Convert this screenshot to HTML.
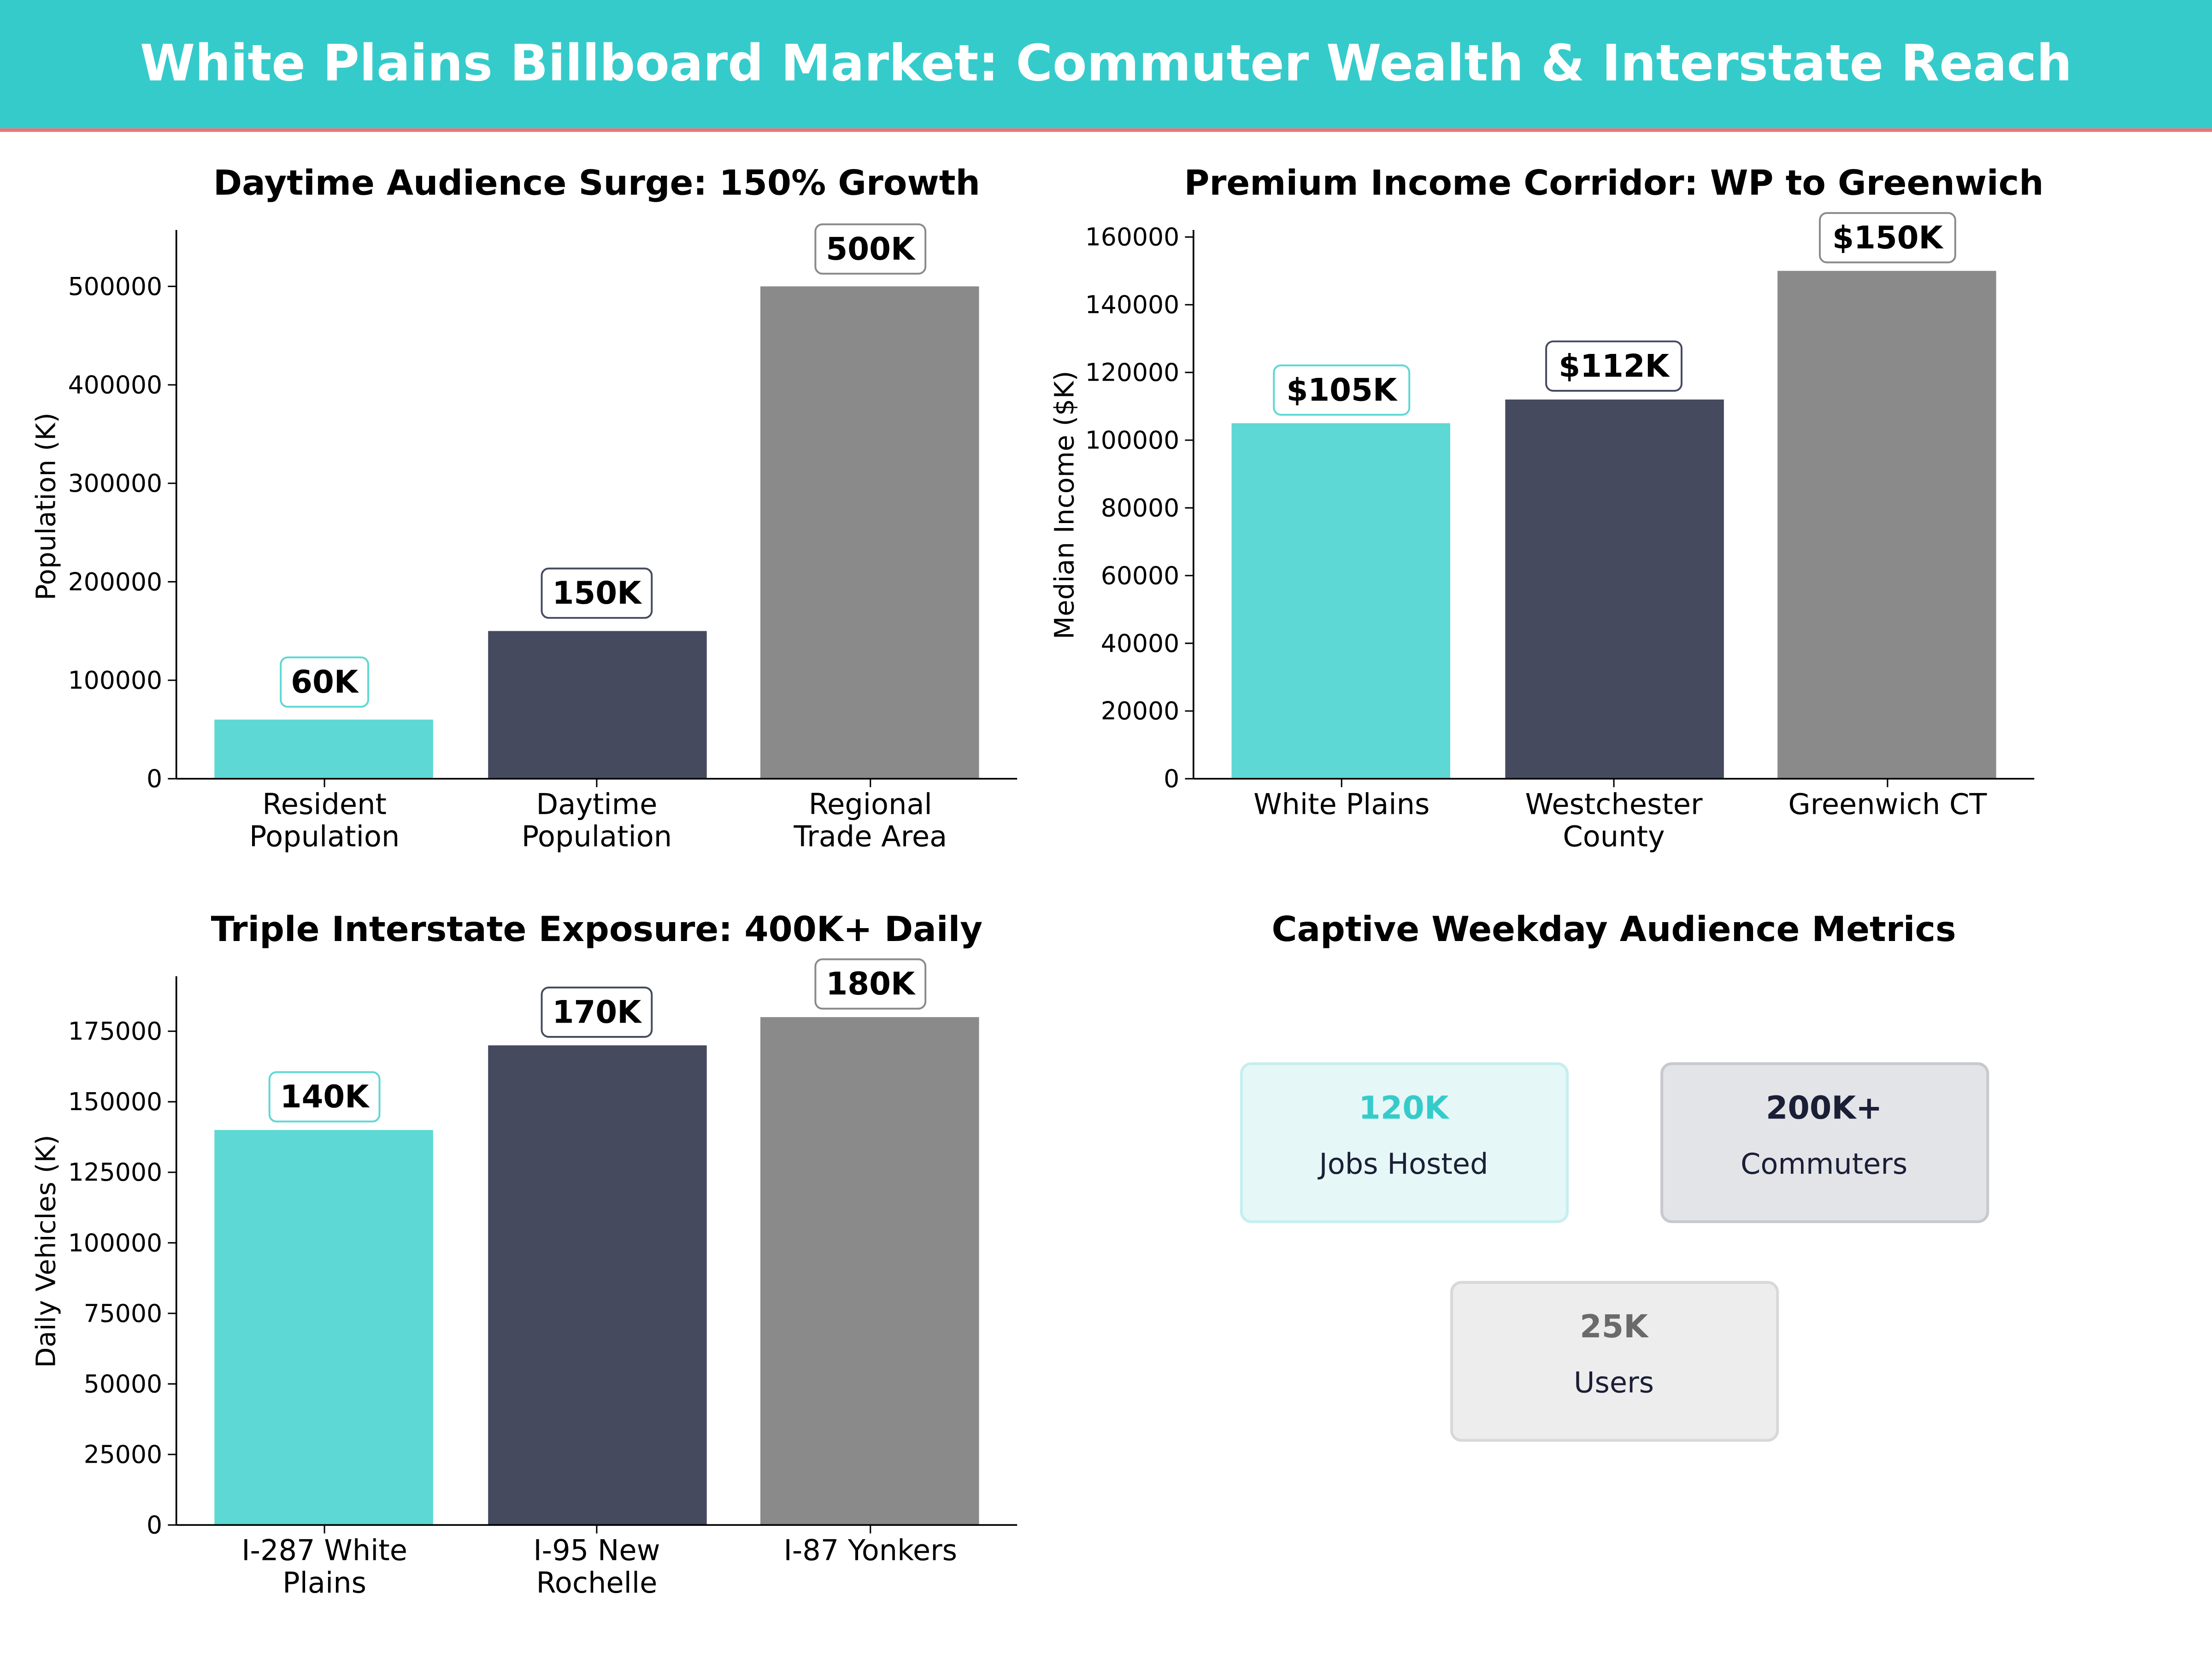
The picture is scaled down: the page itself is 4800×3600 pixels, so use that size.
<!DOCTYPE html>
<html><head><meta charset="utf-8"><style>
html,body{margin:0;padding:0;background:#fff;}
svg{display:block;}
text{font-family:"DejaVu Sans","Liberation Sans",sans-serif;}
</style></head><body>
<svg width="4800" height="3600" viewBox="0 0 1568 1176" xmlns="http://www.w3.org/2000/svg">
<rect x="0" y="0" width="1568" height="1176" fill="#fff"/>
<rect x="0" y="0" width="1568" height="91" fill="#36CBCB"/>
<rect x="0" y="91" width="1568" height="2.5" fill="#F07178"/>
<text x="784" y="57" text-anchor="middle" font-size="35.4" font-weight="bold" fill="#fff">White Plains Billboard Market: Commuter Wealth &amp; Interstate Reach</text>

<!-- Chart 1 -->
<text x="423" y="138" text-anchor="middle" font-size="24.5" font-weight="bold" fill="#000">Daytime Audience Surge: 150% Growth</text>
<g font-size="17.5" fill="#000">
<rect x="152" y="510.1" width="155" height="41.9" fill="#5DD8D4"/>
<rect x="346" y="447.3" width="155" height="104.7" fill="#454A5F"/>
<rect x="539" y="203" width="155" height="349" fill="#8A8A8A"/>
<line x1="125" y1="163" x2="125" y2="552" stroke="#000" stroke-width="1.2"/>
<line x1="125" y1="552" x2="721" y2="552" stroke="#000" stroke-width="1.2"/>
<g text-anchor="end">
<text x="115" y="558">0</text><text x="115" y="488.2">100000</text><text x="115" y="418.4">200000</text><text x="115" y="348.6">300000</text><text x="115" y="278.8">400000</text><text x="115" y="209">500000</text>
</g>
<g stroke="#000"><line x1="119" y1="552" x2="125" y2="552"/><line x1="119" y1="482.2" x2="125" y2="482.2"/><line x1="119" y1="412.4" x2="125" y2="412.4"/><line x1="119" y1="342.6" x2="125" y2="342.6"/><line x1="119" y1="272.8" x2="125" y2="272.8"/><line x1="119" y1="203" x2="125" y2="203"/>
<line x1="230" y1="552" x2="230" y2="558"/><line x1="423" y1="552" x2="423" y2="558"/><line x1="617" y1="552" x2="617" y2="558"/></g>
<g text-anchor="middle" font-size="20.3">
<text x="230" y="577">Resident</text><text x="230" y="600">Population</text>
<text x="423" y="577">Daytime</text><text x="423" y="600">Population</text>
<text x="617" y="577">Regional</text><text x="617" y="600">Trade Area</text>
</g>
<text transform="translate(39,359) rotate(-90)" text-anchor="middle" font-size="19">Population (K)</text>
<rect x="199" y="466" width="62" height="35" rx="5" fill="#fff" stroke="#5DD8D4" stroke-width="1.3"/>
<text x="230" y="491" text-anchor="middle" font-size="22" font-weight="bold">60K</text>
<rect x="384" y="403" width="78" height="35" rx="5" fill="#fff" stroke="#454A5F" stroke-width="1.3"/>
<text x="423" y="428" text-anchor="middle" font-size="22" font-weight="bold">150K</text>
<rect x="578" y="159" width="78" height="35" rx="5" fill="#fff" stroke="#8A8A8A" stroke-width="1.3"/>
<text x="617" y="184" text-anchor="middle" font-size="22" font-weight="bold">500K</text>
</g>

<!-- Chart 2 -->
<text x="1144" y="138" text-anchor="middle" font-size="24.5" font-weight="bold" fill="#000">Premium Income Corridor: WP to Greenwich</text>
<g font-size="17.5" fill="#000">
<rect x="873" y="300" width="155" height="252" fill="#5DD8D4"/>
<rect x="1067" y="283.2" width="155" height="268.8" fill="#454A5F"/>
<rect x="1260" y="192" width="155" height="360" fill="#8A8A8A"/>
<line x1="846" y1="163" x2="846" y2="552" stroke="#000" stroke-width="1.2"/>
<line x1="846" y1="552" x2="1442" y2="552" stroke="#000" stroke-width="1.2"/>
<g text-anchor="end">
<text x="836" y="558">0</text><text x="836" y="510">20000</text><text x="836" y="462">40000</text><text x="836" y="414">60000</text><text x="836" y="366">80000</text><text x="836" y="318">100000</text><text x="836" y="270">120000</text><text x="836" y="222">140000</text><text x="836" y="174">160000</text>
</g>
<g stroke="#000"><line x1="840" y1="552" x2="846" y2="552"/><line x1="840" y1="504" x2="846" y2="504"/><line x1="840" y1="456" x2="846" y2="456"/><line x1="840" y1="408" x2="846" y2="408"/><line x1="840" y1="360" x2="846" y2="360"/><line x1="840" y1="312" x2="846" y2="312"/><line x1="840" y1="264" x2="846" y2="264"/><line x1="840" y1="216" x2="846" y2="216"/><line x1="840" y1="168" x2="846" y2="168"/>
<line x1="951" y1="552" x2="951" y2="558"/><line x1="1144" y1="552" x2="1144" y2="558"/><line x1="1338" y1="552" x2="1338" y2="558"/></g>
<g text-anchor="middle" font-size="20.3">
<text x="951" y="577">White Plains</text>
<text x="1144" y="577">Westchester</text><text x="1144" y="600">County</text>
<text x="1338" y="577">Greenwich CT</text>
</g>
<text transform="translate(761,358) rotate(-90)" text-anchor="middle" font-size="19">Median Income ($K)</text>
<rect x="903" y="259" width="96" height="35" rx="5" fill="#fff" stroke="#5DD8D4" stroke-width="1.3"/>
<text x="951" y="284" text-anchor="middle" font-size="22" font-weight="bold">$105K</text>
<rect x="1096" y="242" width="96" height="35" rx="5" fill="#fff" stroke="#454A5F" stroke-width="1.3"/>
<text x="1144" y="267" text-anchor="middle" font-size="22" font-weight="bold">$112K</text>
<rect x="1290" y="151" width="96" height="35" rx="5" fill="#fff" stroke="#8A8A8A" stroke-width="1.3"/>
<text x="1338" y="176" text-anchor="middle" font-size="22" font-weight="bold">$150K</text>
</g>

<!-- Chart 3 -->
<text x="423" y="667" text-anchor="middle" font-size="24.5" font-weight="bold" fill="#000">Triple Interstate Exposure: 400K+ Daily</text>
<g font-size="17.5" fill="#000">
<rect x="152" y="801" width="155" height="280" fill="#5DD8D4"/>
<rect x="346" y="741" width="155" height="340" fill="#454A5F"/>
<rect x="539" y="721" width="155" height="360" fill="#8A8A8A"/>
<line x1="125" y1="692" x2="125" y2="1081" stroke="#000" stroke-width="1.2"/>
<line x1="125" y1="1081" x2="721" y2="1081" stroke="#000" stroke-width="1.2"/>
<g text-anchor="end">
<text x="115" y="1087">0</text><text x="115" y="1037">25000</text><text x="115" y="987">50000</text><text x="115" y="937">75000</text><text x="115" y="887">100000</text><text x="115" y="837">125000</text><text x="115" y="787">150000</text><text x="115" y="737">175000</text>
</g>
<g stroke="#000"><line x1="119" y1="1081" x2="125" y2="1081"/><line x1="119" y1="1031" x2="125" y2="1031"/><line x1="119" y1="981" x2="125" y2="981"/><line x1="119" y1="931" x2="125" y2="931"/><line x1="119" y1="881" x2="125" y2="881"/><line x1="119" y1="831" x2="125" y2="831"/><line x1="119" y1="781" x2="125" y2="781"/><line x1="119" y1="731" x2="125" y2="731"/>
<line x1="230" y1="1081" x2="230" y2="1087"/><line x1="423" y1="1081" x2="423" y2="1087"/><line x1="617" y1="1081" x2="617" y2="1087"/></g>
<g text-anchor="middle" font-size="20.3">
<text x="230" y="1106">I-287 White</text><text x="230" y="1129">Plains</text>
<text x="423" y="1106">I-95 New</text><text x="423" y="1129">Rochelle</text>
<text x="617" y="1106">I-87 Yonkers</text>
</g>
<text transform="translate(39,887) rotate(-90)" text-anchor="middle" font-size="19">Daily Vehicles (K)</text>
<rect x="191" y="760" width="78" height="35" rx="5" fill="#fff" stroke="#5DD8D4" stroke-width="1.3"/>
<text x="230" y="785" text-anchor="middle" font-size="22" font-weight="bold">140K</text>
<rect x="384" y="700" width="78" height="35" rx="5" fill="#fff" stroke="#454A5F" stroke-width="1.3"/>
<text x="423" y="725" text-anchor="middle" font-size="22" font-weight="bold">170K</text>
<rect x="578" y="680" width="78" height="35" rx="5" fill="#fff" stroke="#8A8A8A" stroke-width="1.3"/>
<text x="617" y="705" text-anchor="middle" font-size="22" font-weight="bold">180K</text>
</g>

<!-- Chart 4 -->
<text x="1144" y="667" text-anchor="middle" font-size="24.5" font-weight="bold" fill="#000">Captive Weekday Audience Metrics</text>
<rect x="880" y="754" width="231" height="112" rx="7" fill="#E5F7F7" stroke="#C8EEEE" stroke-width="2"/>
<text x="995" y="793" text-anchor="middle" font-size="22.3" font-weight="bold" fill="#36CBCB">120K</text>
<text x="995" y="832" text-anchor="middle" font-size="20.3" fill="#1a1f36">Jobs Hosted</text>
<rect x="1178" y="754" width="231" height="112" rx="7" fill="#E3E4E8" stroke="#C8C9CF" stroke-width="2"/>
<text x="1293" y="793" text-anchor="middle" font-size="22.3" font-weight="bold" fill="#1a1f36">200K+</text>
<text x="1293" y="832" text-anchor="middle" font-size="20.3" fill="#1a1f36">Commuters</text>
<rect x="1029" y="909" width="231" height="112" rx="7" fill="#EDEDED" stroke="#D8D8D8" stroke-width="2"/>
<text x="1144" y="948" text-anchor="middle" font-size="22.3" font-weight="bold" fill="#6a6a6a">25K</text>
<text x="1144" y="987" text-anchor="middle" font-size="20.3" fill="#1a1f36">Users</text>
</svg>
</body></html>
